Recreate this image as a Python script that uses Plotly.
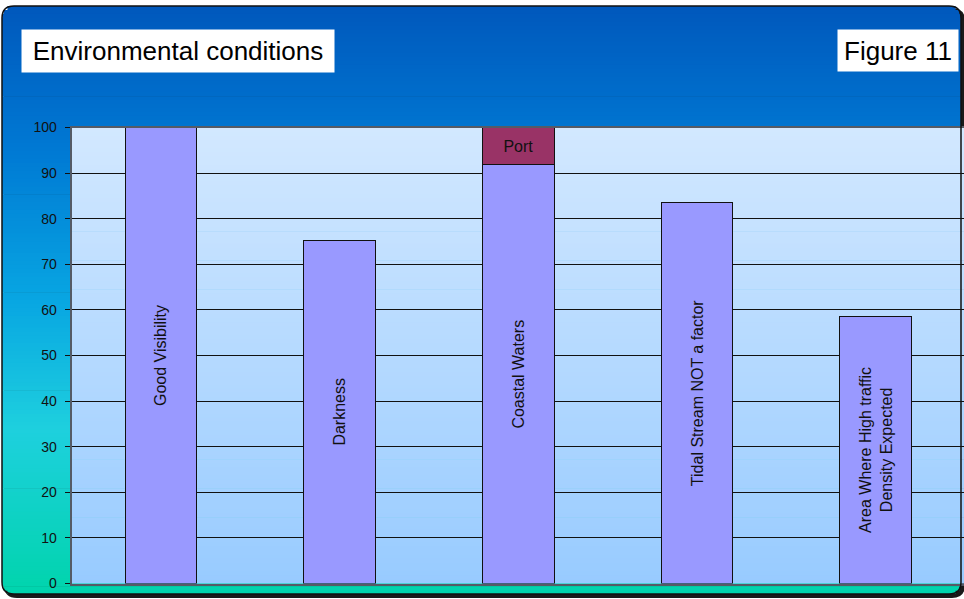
import math
import plotly.graph_objects as go

# ---------------- data ----------------
categories = [
    "Good Visibility",
    "Darkness",
    "Coastal Waters",
    "Tidal Stream NOT a factor",
    "Area Where High traffic<br>Density Expected",
]
main_values = [100, 75.3, 91.8, 83.6, 58.6]
port_values = [None, None, 8.2, None, None]
port_labels = ["", "", "Port", "", ""]
y_ticks = [0, 10, 20, 30, 40, 50, 60, 70, 80, 90, 100]
title_text = "Environmental conditions"
figure_label = "Figure 11"

# ---------------- geometry (pixels) ----------------
W, H = 964, 599
PL, PR, PT, PB = 71.6, 964.0, 127.5, 583.5
FL, FR, FT, FB, FRAD = 2.0, 961.0, 6.0, 594.0, 12.0
FONT = "Liberation Sans, Arial, sans-serif"


def px(x):
    return x / W


def py(y):
    return 1 - y / H


def lerp_color(stops, t):
    for (t0, c0), (t1, c1) in zip(stops[:-1], stops[1:]):
        if t <= t1:
            f = 0 if t1 == t0 else (t - t0) / (t1 - t0)
            c = [round(a + (b - a) * f) for a, b in zip(c0, c1)]
            return "rgb(%d,%d,%d)" % tuple(c)
    return "rgb(%d,%d,%d)" % tuple(stops[-1][1])


outer_stops = [
    (0.0, (0, 88, 188)),
    (0.25, (0, 122, 212)),
    (0.5, (8, 166, 226)),
    (0.72, (30, 208, 222)),
    (1.0, (0, 212, 172)),
]
plot_stops = [(0.0, (210, 232, 255)), (1.0, (152, 203, 255))]


def rounded_path(l, t, r, b, rad):
    L, R = px(l), px(r)
    T, B = py(t), py(b)
    rx, ry = rad / W, rad / H
    return (
        f"M {L+rx},{T} L {R-rx},{T} Q {R},{T} {R},{T-ry} "
        f"L {R},{B+ry} Q {R},{B} {R-rx},{B} "
        f"L {L+rx},{B} Q {L},{B} {L},{B+ry} "
        f"L {L},{T-ry} Q {L},{T} {L+rx},{T} Z"
    )


shapes = []
# shadow of the frame
shapes.append(dict(type="path", xref="paper", yref="paper", layer="below",
                   path=rounded_path(FL + 3, FT + 3, FR + 3, FB + 3, FRAD),
                   line=dict(color="#1a1a1a", width=2), fillcolor="#1a1a1a"))

# outer gradient (stripes with rounded corners)
N = 150
hh = (FB - FT) / N
for i in range(N):
    y0 = FT + i * hh
    y1 = y0 + hh
    yc = (y0 + y1) / 2
    inset = 0.0
    if yc < FT + FRAD:
        d = FT + FRAD - yc
        inset = FRAD - math.sqrt(max(FRAD ** 2 - d ** 2, 0))
    elif yc > FB - FRAD:
        d = yc - (FB - FRAD)
        inset = FRAD - math.sqrt(max(FRAD ** 2 - d ** 2, 0))
    col = lerp_color(outer_stops, (yc - FT) / (FB - FT))
    shapes.append(dict(type="rect", xref="paper", yref="paper", layer="below",
                       x0=px(FL + inset), x1=px(FR - inset),
                       y0=py(y0), y1=py(min(y1 + 0.7, FB)),
                       line=dict(width=0), fillcolor=col))

# plot area gradient
M = 110
ph = (PB - PT) / M
for i in range(M):
    y0 = PT + i * ph
    y1 = y0 + ph
    col = lerp_color(plot_stops, ((y0 + y1) / 2 - PT) / (PB - PT))
    shapes.append(dict(type="rect", xref="paper", yref="paper", layer="below",
                       x0=px(PL), x1=px(PR), y0=py(y0), y1=py(min(y1 + 0.7, PB)),
                       line=dict(width=0), fillcolor=col))

# frame border
shapes.append(dict(type="path", xref="paper", yref="paper", layer="above",
                   path=rounded_path(FL, FT, FR, FB, FRAD),
                   line=dict(color="#111111", width=1.5)))

fig = go.Figure()
fig.add_trace(go.Bar(
    x=categories, y=main_values, name="main",
    marker=dict(color="#9999FF", line=dict(color="#111111", width=1)),
    text=categories, textposition="inside", insidetextanchor="middle",
    textangle=-90, textfont=dict(family=FONT, size=16, color="#111111"),
    hoverinfo="skip",
))
fig.add_trace(go.Bar(
    x=categories, y=port_values, name="Port",
    marker=dict(color="#993366", line=dict(color="#111111", width=1)),
    text=port_labels, textposition="inside", insidetextanchor="middle",
    textangle=0, textfont=dict(family=FONT, size=16, color="#111111"),
    hoverinfo="skip",
))

annotations = [
    dict(text=title_text, xref="paper", yref="paper", x=px(21), y=py(29),
         xanchor="left", yanchor="top", showarrow=False, bgcolor="white",
         width=312, height=42, borderpad=0, align="center",
         font=dict(family=FONT, size=26, color="#000000")),
    dict(text=figure_label, xref="paper", yref="paper", x=px(837), y=py(29),
         xanchor="left", yanchor="top", showarrow=False, bgcolor="white",
         width=120, height=41, borderpad=0, align="center",
         font=dict(family=FONT, size=26, color="#000000")),
]

fig.update_layout(
    width=W, height=H,
    margin=dict(l=0, r=0, t=0, b=0, autoexpand=False),
    paper_bgcolor="white", plot_bgcolor="rgba(0,0,0,0)",
    barmode="stack", bargap=0.6, showlegend=False,
    shapes=shapes, annotations=annotations,
    xaxis=dict(domain=[px(PL), 1], type="category", range=[-0.5, 4.494],
               showticklabels=False, ticks="", showgrid=False,
               showline=True, mirror=True, linecolor="#555b66", linewidth=2,
               zeroline=False, fixedrange=True),
    yaxis=dict(domain=[py(PB), py(PT)], range=[0, 100], tickvals=y_ticks,
               ticks="outside", ticklen=5, tickcolor="#111111", tickwidth=1,
               ticklabelstandoff=5,
               showgrid=True, gridcolor="#111111", gridwidth=1,
               showline=True, linecolor="#555b66", linewidth=2,
               zeroline=False, fixedrange=True,
               tickfont=dict(family=FONT, size=14, color="#111111")),
)

fig.write_html(
    "out.html",
    config={"displayModeBar": False},
    post_script="document.body.style.margin='0';document.body.style.overflow='hidden';",
)
